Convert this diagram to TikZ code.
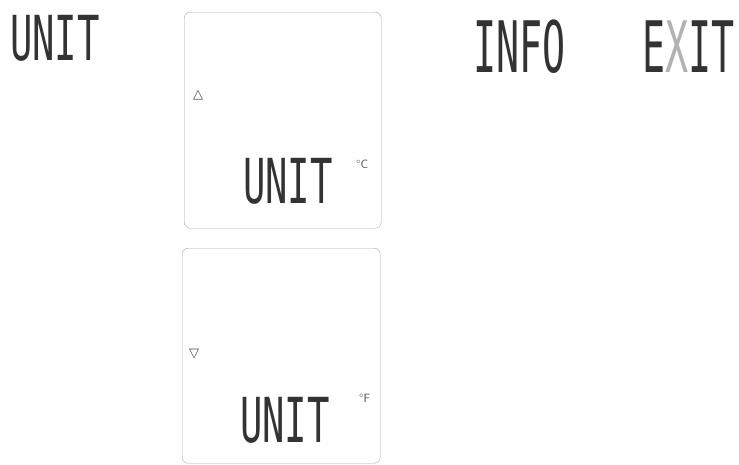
\documentclass[tikz,border=0pt]{standalone}
\usepackage{fontspec}
\usepackage{graphicx}
\usetikzlibrary{positioning}
\newfontfamily\lcdfont{DejaVu Sans Mono}
\newfontfamily\symfont{DejaVu Sans}
\newcommand{\lcdword}[1]{\scalebox{0.6}[1]{#1}}
\newcommand{\bigword}[1]{\scalebox{0.54}[1]{#1}}
\tikzset{
  lcdword/.style={
    anchor=base west, inner sep=0pt, text=black!80,
    font=\lcdfont\fontsize{62}{62}\selectfont
  },
  bigword/.style={
    lcdword, font=\lcdfont\fontsize{71}{71}\selectfont
  },
  screen/.style={
    draw=black!35, thin, rounded corners=6pt,
    anchor=north west, inner sep=0pt
  },
  arrowmark/.style={
    inner sep=0pt, text=black!70,
    font=\symfont\fontsize{13}{13}\selectfont
  },
  unitmark/.style={
    anchor=north west, inner sep=0pt, text=black!70,
    font=\sffamily\fontsize{12}{12}\selectfont
  },
}
\begin{document}
\begin{tikzpicture}[x=1pt, y=1pt]
  \useasboundingbox (0,0) rectangle (739,-464);

  \node[lcdword] (title) at (10,-60) {\lcdword{UNIT}};

  \node[screen, minimum width=197pt, minimum height=216pt] (up) at (184,-12) {};
  \node[arrowmark] (uparrow) at (198,-95) {△};
  \node[lcdword] (upword) at (243,-203) {\lcdword{UNIT}};
  \node[unitmark] (celsius) at (356,-160) {°C};

  \node[screen, minimum width=198pt, minimum height=215pt] (down) at (182,-248) {};
  \node[arrowmark] (downarrow) at (194,-354) {▽};
  \node[lcdword] (downword) at (240,-442) {\lcdword{UNIT}};
  \node[unitmark] (fahrenheit) at (359,-394) {°F};

  \node[bigword] (info) at (473,-72) {\bigword{INFO}};
  \node[bigword] (exit) at (642,-72) {\bigword{E\textcolor{black!30}{X}IT}};
\end{tikzpicture}
\end{document}
